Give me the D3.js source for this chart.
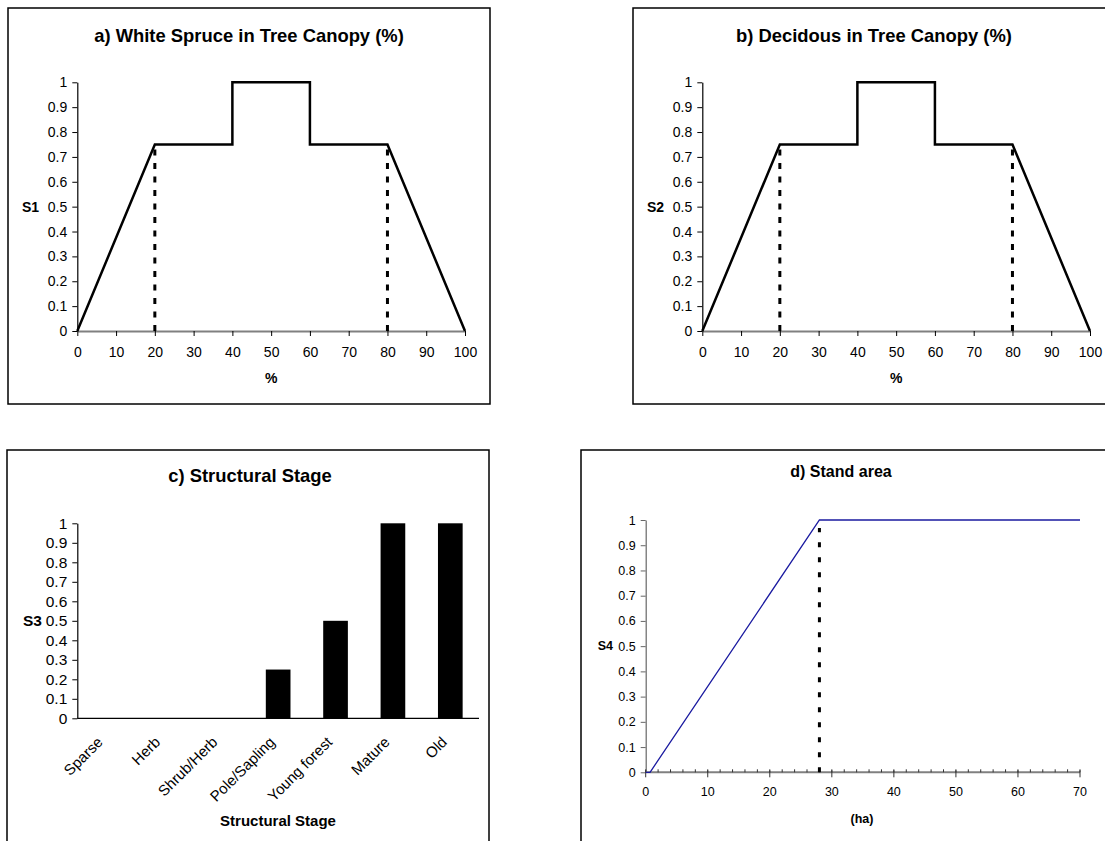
<!DOCTYPE html>
<html>
<head>
<meta charset="utf-8">
<script src="https://cdn.jsdelivr.net/npm/d3@7"></script>
<style>
  html, body { margin: 0; padding: 0; background: #fff; }
  svg { display: block; font-family: "Liberation Sans", Arial, sans-serif; }
</style>
</head>
<body>
<svg id="chart" width="1105" height="841"></svg>
<script>
// Suitability curve for canopy share (% of tree canopy), panels a and b
const canopyPct   = [0, 20, 40, 40, 60, 60, 80, 100];
const canopyScore = [0, 0.75, 0.75, 1, 1, 0.75, 0.75, 0];
const canopyGuides = [20, 80];           // dotted reference lines
const canopyGuideTop = 0.75;

// Structural stage suitability, panel c
const stages = ["Sparse", "Herb", "Shrub/Herb", "Pole/Sapling", "Young forest", "Mature", "Old"];
const stageScore = [0, 0, 0, 0.25, 0.5, 1, 1];

// Stand area suitability, panel d
const areaHa    = [0, 0.7, 28, 70];
const areaScore = [0, 0, 1, 1];
const areaGuide = 28;
const areaGuideTop = 1;

// Axis ticks
const scoreTicks = [0, 0.1, 0.2, 0.3, 0.4, 0.5, 0.6, 0.7, 0.8, 0.9, 1];
const pctTicks = [0, 10, 20, 30, 40, 50, 60, 70, 80, 90, 100];
const haTicks = [0, 10, 20, 30, 40, 50, 60, 70];
const haMinorTicks = d3.range(0, 71, 2);

const svg = d3.select("#chart");
const fmt = d => String(+d.toFixed(1));

function frame(x0, y0, x1, y1) {
  svg.append("rect")
    .attr("x", x0).attr("y", y0)
    .attr("width", x1 - x0).attr("height", y1 - y0)
    .attr("fill", "none").attr("stroke", "#000").attr("stroke-width", 1.5);
}

function title(text, x, y, size) {
  svg.append("text").attr("x", x).attr("y", y)
    .attr("text-anchor", "middle").attr("dominant-baseline", "central")
    .attr("font-weight", "bold").attr("font-size", size).attr("fill", "#000")
    .text(text);
}

function yAxis(y, x, size, color) {
  const g = svg.append("g").attr("transform", `translate(${x},0)`)
    .call(d3.axisLeft(y).tickValues(scoreTicks).tickFormat(fmt).tickSize(5).tickPadding(5).tickSizeOuter(0));
  g.select(".domain").attr("stroke", color).attr("stroke-width", 1.2);
  g.selectAll(".tick line").attr("stroke", color);
  g.selectAll(".tick text").attr("font-size", size).attr("fill", "#000")
    .attr("font-family", "Liberation Sans, Arial, sans-serif");
  return g;
}

// ---------- panels a and b: canopy curves ----------
function canopyPanel(opt) {
  frame(opt.fx0, opt.fy0, opt.fx1, opt.fy1);
  title(opt.title, opt.tx, opt.ty, 18.4);

  const x = d3.scaleLinear().domain([0, 100]).range([opt.px0, opt.px1]);
  const y = d3.scaleLinear().domain([0, 1]).range([opt.py0, opt.py1]);

  yAxis(y, opt.px0, 14, "#000");

  const gx = svg.append("g").attr("transform", `translate(0,${opt.py0})`)
    .call(d3.axisBottom(x).tickValues(pctTicks).tickSize(5).tickPadding(11).tickSizeOuter(0));
  gx.select(".domain").attr("stroke", "#808080").attr("stroke-width", 2);
  gx.selectAll(".tick line").attr("stroke", "#000");
  gx.selectAll(".tick text").attr("font-size", 14).attr("fill", "#000")
    .attr("font-family", "Liberation Sans, Arial, sans-serif");

  // dotted guides
  svg.selectAll(null).data(canopyGuides).enter().append("line")
    .attr("x1", d => x(d)).attr("x2", d => x(d))
    .attr("y1", y(0)).attr("y2", y(canopyGuideTop))
    .attr("stroke", "#000").attr("stroke-width", 3)
    .attr("stroke-dasharray", "6,7.5");

  const pts = canopyPct.map((p, i) => [p, canopyScore[i]]);
  svg.append("path").datum(pts)
    .attr("d", d3.line().x(d => x(d[0])).y(d => y(d[1])))
    .attr("fill", "none").attr("stroke", "#000").attr("stroke-width", 2.5)
    .attr("stroke-linejoin", "miter");

  svg.append("text").attr("x", opt.sx).attr("y", y(0.5))
    .attr("text-anchor", "end").attr("dominant-baseline", "central")
    .attr("font-weight", "bold").attr("font-size", 14).text(opt.ylabel);

  svg.append("text").attr("x", (opt.px0 + opt.px1) / 2).attr("y", 378)
    .attr("text-anchor", "middle").attr("dominant-baseline", "central")
    .attr("font-weight", "bold").attr("font-size", 14).text("%");
}

canopyPanel({
  fx0: 8, fy0: 8, fx1: 490, fy1: 404,
  title: "a) White Spruce in Tree Canopy (%)", tx: 249, ty: 35,
  px0: 77.3, px1: 465, py0: 331, py1: 82.3,
  sx: 39, ylabel: "S1"
});

canopyPanel({
  fx0: 633, fy0: 8, fx1: 1115, fy1: 404,
  title: "b) Decidous in Tree Canopy (%)", tx: 874, ty: 35,
  px0: 702.3, px1: 1090, py0: 331, py1: 82.3,
  sx: 664, ylabel: "S2"
});

// ---------- panel c: structural stage bars ----------
(function () {
  frame(7, 450, 489, 860);
  title("c) Structural Stage", 250, 475, 18.4);

  const x = d3.scaleBand().domain(stages).range([77.3, 479]).paddingInner(0.57).paddingOuter(0.285);
  const y = d3.scaleLinear().domain([0, 1]).range([718.3, 523.3]);

  yAxis(y, 77.3, 15.5, "#000");

  svg.append("line").attr("x1", 77.3).attr("x2", 479)
    .attr("y1", y(0)).attr("y2", y(0))
    .attr("stroke", "#000").attr("stroke-width", 1.2);

  svg.selectAll(".bar").data(stages).enter().append("rect")
    .attr("class", "bar")
    .attr("x", d => x(d))
    .attr("width", x.bandwidth())
    .attr("y", (d, i) => y(stageScore[i]))
    .attr("height", (d, i) => y(0) - y(stageScore[i]))
    .attr("fill", "#000");

  svg.selectAll(".cat").data(stages).enter().append("text")
    .attr("class", "cat")
    .attr("transform", d => `translate(${x(d) + x.bandwidth() / 2 - 6},${y(0) + 21}) rotate(-45)`)
    .attr("text-anchor", "end").attr("dy", "0.35em")
    .attr("font-size", 15).attr("fill", "#000")
    .text(d => d);

  svg.append("text").attr("x", 278).attr("y", 820)
    .attr("text-anchor", "middle").attr("dominant-baseline", "central")
    .attr("font-weight", "bold").attr("font-size", 15).text("Structural Stage");

  svg.append("text").attr("x", 42).attr("y", y(0.5))
    .attr("text-anchor", "end").attr("dominant-baseline", "central")
    .attr("font-weight", "bold").attr("font-size", 15.5).text("S3");
})();

// ---------- panel d: stand area ----------
(function () {
  frame(581, 450, 1120, 860);
  title("d) Stand area", 841, 471.7, 16);

  const x = d3.scaleLinear().domain([0, 70]).range([645.7, 1080]);
  const y = d3.scaleLinear().domain([0, 1]).range([772.3, 520]);

  yAxis(y, 645.7, 12.5, "#666");

  // x axis: grey baseline, minor ticks above, major ticks crossing
  svg.append("line").attr("x1", x(0)).attr("x2", x(70))
    .attr("y1", y(0)).attr("y2", y(0))
    .attr("stroke", "#808080").attr("stroke-width", 2);
  svg.selectAll(".minor").data(haMinorTicks).enter().append("line")
    .attr("class", "minor")
    .attr("x1", d => x(d)).attr("x2", d => x(d))
    .attr("y1", y(0)).attr("y2", y(0) - 3)
    .attr("stroke", "#333").attr("stroke-width", 1);
  svg.selectAll(".major").data(haTicks).enter().append("line")
    .attr("class", "major")
    .attr("x1", d => x(d)).attr("x2", d => x(d))
    .attr("y1", y(0) - 2).attr("y2", y(0) + 5)
    .attr("stroke", "#333").attr("stroke-width", 1);
  svg.selectAll(".hal").data(haTicks).enter().append("text")
    .attr("class", "hal")
    .attr("x", d => x(d)).attr("y", y(0) + 20)
    .attr("text-anchor", "middle").attr("dominant-baseline", "central")
    .attr("font-size", 12.5).attr("fill", "#000")
    .text(d => d);

  svg.append("line")
    .attr("x1", x(areaGuide)).attr("x2", x(areaGuide))
    .attr("y1", y(0)).attr("y2", y(areaGuideTop) + 8)
    .attr("stroke", "#000").attr("stroke-width", 3)
    .attr("stroke-dasharray", "5,10");

  const pts = areaHa.map((h, i) => [h, areaScore[i]]);
  svg.append("path").datum(pts)
    .attr("d", d3.line().x(d => x(d[0])).y(d => y(d[1])))
    .attr("fill", "none").attr("stroke", "#1a1aa0").attr("stroke-width", 1.3);

  svg.append("text").attr("x", 862).attr("y", 819)
    .attr("text-anchor", "middle").attr("dominant-baseline", "central")
    .attr("font-weight", "bold").attr("font-size", 12.5).text("(ha)");

  svg.append("text").attr("x", 613).attr("y", y(0.5))
    .attr("text-anchor", "end").attr("dominant-baseline", "central")
    .attr("font-weight", "bold").attr("font-size", 12.5).text("S4");
})();
</script>
</body>
</html>
